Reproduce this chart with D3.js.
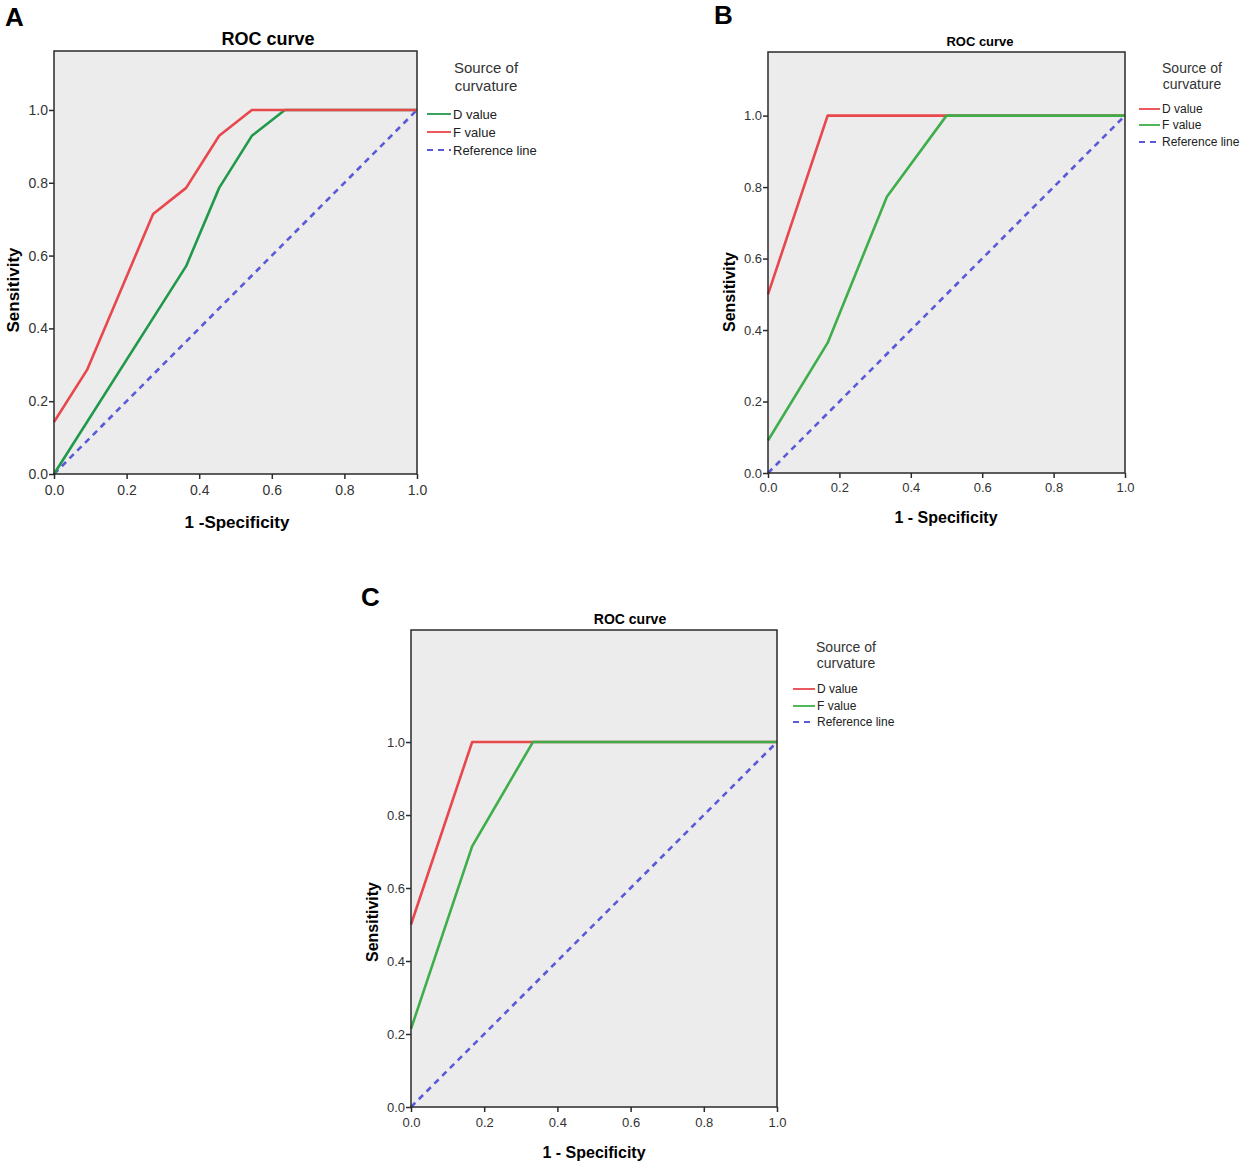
<!DOCTYPE html>
<html>
<head>
<meta charset="utf-8">
<script src="https://cdn.jsdelivr.net/npm/d3@7"></script>
<style>
  body { margin: 0; background: #fff; }
  text { font-family: "Liberation Sans", Arial, sans-serif; }
</style>
</head>
<body>
<svg id="chart" width="1247" height="1169"></svg>
<script>
/* -------- ROC curves, three panels -------- */

// tick values shared by every panel
let tickValues = [0, 0.2, 0.4, 0.6, 0.8, 1.0];
let seriesNames = ["D value", "F value"];

// panel A  (x = 1 - specificity, y = sensitivity)
let aD_x = [0, 0.364, 0.455, 0.545, 0.636, 1.0];
let aD_y = [0, 0.571, 0.786, 0.929, 1.0, 1.0];
let aF_x = [0, 0.091, 0.273, 0.364, 0.455, 0.545, 1.0];
let aF_y = [0.143, 0.286, 0.714, 0.786, 0.929, 1.0, 1.0];

// panel B
let bD_x = [0, 0.167, 1.0];
let bD_y = [0.5, 1.0, 1.0];
let bF_x = [0, 0.167, 0.333, 0.5, 1.0];
let bF_y = [0.091, 0.364, 0.773, 1.0, 1.0];

// panel C
let cD_x = [0, 0.167, 1.0];
let cD_y = [0.5, 1.0, 1.0];
let cF_x = [0, 0.167, 0.333, 1.0];
let cF_y = [0.214, 0.714, 1.0, 1.0];

let refLine = [0, 1];

let red = "#e8474c";
let blue = "#5a5ad8";

let zip = (xs, ys) => xs.map((x, i) => [x, ys[i]]);

let panels = [
    {
        letter: "A", letterX: 5, letterY: 26, left: 54, right: 417, top: 51, bottom: 474, yMax: 1.162,
        titleSize: 18, titleX: 268, titleY: 45, tickSize: 14, tickPad: 6,
        xTitle: "1 -Specificity", xTitleX: 237, xTitleY: 528, axisSize: 17, sensX: 19, sensY: 290,
        legX: 427, legLine: 24, legTitleX: 486, legTitleY: [73, 91], legTitleSize: 15,
        legY: [114, 132, 150], legSize: 13,
        series: [{ pts: zip(aD_x, aD_y), color: "#21994b" }, { pts: zip(aF_x, aF_y), color: red }]
    },
    {
        letter: "B", letterX: 714, letterY: 24, left: 768, right: 1125, top: 52, bottom: 473, yMax: 1.178,
        titleSize: 13, titleX: 980, titleY: 46, tickSize: 13, tickPad: 5,
        xTitle: "1 - Specificity", xTitleX: 946, xTitleY: 523, axisSize: 16, sensX: 735, sensY: 292,
        legX: 1139, legLine: 21, legTitleX: 1192, legTitleY: [73, 89], legTitleSize: 14,
        legY: [109, 125, 142], legSize: 12,
        series: [{ pts: zip(bD_x, bD_y), color: red }, { pts: zip(bF_x, bF_y), color: "#3fae4a" }]
    },
    {
        letter: "C", letterX: 361, letterY: 606, left: 411, right: 777, top: 630, bottom: 1107, yMax: 1.307,
        titleSize: 14, titleX: 630, titleY: 624, tickSize: 13, tickPad: 6,
        xTitle: "1 - Specificity", xTitleX: 594, xTitleY: 1158, axisSize: 16, sensX: 378, sensY: 922,
        legX: 793, legLine: 22, legTitleX: 846, legTitleY: [652, 668], legTitleSize: 14,
        legY: [689, 706, 722], legSize: 12,
        series: [{ pts: zip(cD_x, cD_y), color: red }, { pts: zip(cF_x, cF_y), color: "#3fae4a" }]
    }
];

let svg = d3.select("#chart");

panels.forEach(p => {
    let g = svg.append("g");

    let scaleX = d3.scaleLinear().domain([0, 1]).range([p.left, p.right]);
    let scaleY = d3.scaleLinear().domain([0, p.yMax]).range([p.bottom, p.top]);

    // panel letter
    g.append("text")
        .attr("x", p.letterX).attr("y", p.letterY)
        .attr("font-size", "26px").attr("font-weight", "bold")
        .text(p.letter);

    // plot background
    g.append("rect")
        .attr("x", p.left).attr("y", p.top)
        .attr("width", p.right - p.left).attr("height", p.bottom - p.top)
        .attr("fill", "#ececec");

    // reference line
    g.append("path")
        .attr("d", d3.line()([[scaleX(refLine[0]), scaleY(refLine[0])], [scaleX(refLine[1]), scaleY(refLine[1])]]))
        .attr("stroke", blue).attr("stroke-width", 2.6)
        .attr("stroke-dasharray", "6,5").attr("fill", "none");

    let line = d3.line().x(d => scaleX(d[0])).y(d => scaleY(d[1]));

    // F value is drawn last, so it sits on top where curves overlap
    p.series.forEach(s => {
        g.append("path")
            .attr("d", line(s.pts))
            .attr("stroke", s.color).attr("stroke-width", 2.6)
            .attr("fill", "none").attr("stroke-linejoin", "round");
    });

    // frame
    g.append("rect")
        .attr("x", p.left).attr("y", p.top)
        .attr("width", p.right - p.left).attr("height", p.bottom - p.top)
        .attr("fill", "none").attr("stroke", "#2a2a2a").attr("stroke-width", 1.5);

    // axes
    let axisX = d3.axisBottom(scaleX).tickValues(tickValues).tickFormat(d3.format(".1f")).tickSize(5).tickPadding(p.tickPad);
    let axisY = d3.axisLeft(scaleY).tickValues(tickValues).tickFormat(d3.format(".1f")).tickSize(5).tickPadding(1);

    let gx = g.append("g").attr("transform", `translate(0, ${p.bottom})`).call(axisX);
    let gy = g.append("g").attr("transform", `translate(${p.left}, 0)`).call(axisY);
    [gx, gy].forEach(a => {
        a.select(".domain").remove();
        a.selectAll(".tick line").attr("stroke", "#2a2a2a").attr("stroke-width", 1.5);
        a.selectAll(".tick text")
            .attr("font-size", p.tickSize + "px")
            .attr("font-family", "'Liberation Sans', Arial, sans-serif")
            .attr("fill", "#333");
    });

    // titles
    g.append("text")
        .attr("x", p.titleX).attr("y", p.titleY)
        .attr("text-anchor", "middle")
        .attr("font-size", p.titleSize + "px").attr("font-weight", "bold")
        .text("ROC curve");

    g.append("text")
        .attr("x", p.xTitleX).attr("y", p.xTitleY)
        .attr("text-anchor", "middle")
        .attr("font-size", p.axisSize + "px").attr("font-weight", "bold")
        .text(p.xTitle);

    g.append("text")
        .attr("transform", `translate(${p.sensX}, ${p.sensY}) rotate(-90)`)
        .attr("text-anchor", "middle")
        .attr("font-size", p.axisSize + "px").attr("font-weight", "bold")
        .text("Sensitivity");

    // legend
    ["Source of", "curvature"].forEach((t, i) => {
        g.append("text")
            .attr("x", p.legTitleX).attr("y", p.legTitleY[i])
            .attr("text-anchor", "middle")
            .attr("font-size", p.legTitleSize + "px").attr("fill", "#333")
            .text(t);
    });

    let items = p.series.map((s, i) => ({ name: seriesNames[i], color: s.color, dash: null }))
        .concat([{ name: "Reference line", color: blue, dash: "6,5" }]);

    items.forEach((it, i) => {
        g.append("line")
            .attr("x1", p.legX).attr("x2", p.legX + p.legLine)
            .attr("y1", p.legY[i]).attr("y2", p.legY[i])
            .attr("stroke", it.color).attr("stroke-width", 1.8)
            .attr("stroke-dasharray", it.dash);
        g.append("text")
            .attr("x", p.legX + p.legLine + 2).attr("y", p.legY[i])
            .attr("dy", "0.35em")
            .attr("font-size", p.legSize + "px").attr("fill", "#222")
            .text(it.name);
    });
});
</script>
</body>
</html>
